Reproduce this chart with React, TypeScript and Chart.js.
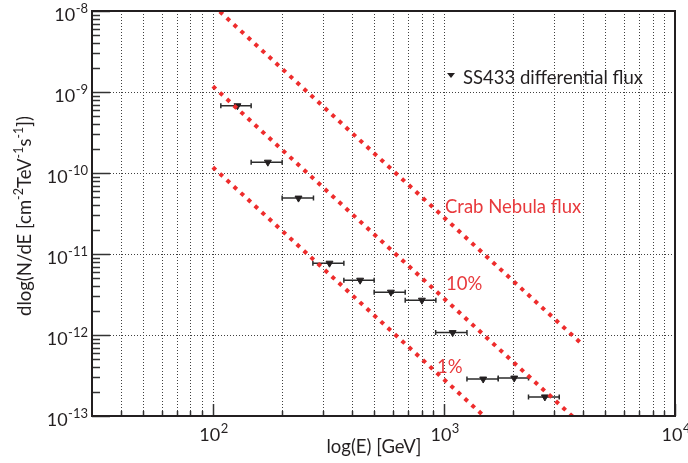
import React, { useEffect, useRef } from "react";
import { Chart, registerables } from "chart.js";
Chart.register(...registerables);

// SS433 differential flux points (GeV, cm^-2 TeV^-1 s^-1)
const energy = [127.8, 173, 234.8, 319.8, 434, 589.7, 803, 1091, 1479, 2015, 2735];
const energyLow = [108.3, 146.5, 199.5, 271, 369, 499, 680, 921, 1258, 1718, 2323];
const energyHigh = [146.5, 199.5, 272.6, 369, 499, 680, 923, 1258, 1718, 2323, 3155];
const flux = [6.76e-10, 1.36e-10, 4.9e-11, 7.7e-12, 4.75e-12, 3.38e-12, 2.69e-12, 1.07e-12, 2.86e-13, 2.94e-13, 1.72e-13];

// Crab Nebula reference lines
const refEnergy = [100, 4000];
const crabFlux = [1.18e-8, 7.5e-13];
const crab10Flux = [1.18e-9, 7.5e-14];
const crab1Flux = [1.18e-10, 7.5e-15];

// Axis ticks
const xMin = 30;
const xMax = 10000;
const yMin = 1e-13;
const yMax = 1e-8;
const xMajorTicks = [100, 1000, 10000];
const xMajorExp = ["2", "3", "4"];
const xMinorTicks = [40, 50, 60, 70, 80, 90, 200, 300, 400, 500, 600, 700, 800, 900, 2000, 3000, 4000, 5000, 6000, 7000, 8000, 9000];
const yMajorTicks = [1e-13, 1e-12, 1e-11, 1e-10, 1e-9, 1e-8];
const yMajorExp = ["-13", "-12", "-11", "-10", "-9", "-8"];
const yMinorMult = [2, 3, 4, 5, 6, 7, 8, 9];

const legendLabel = "SS433 differential flux";
const crabLabel = "Crab Nebula flux";
const tenLabel = "10%";
const oneLabel = "1%";
const xTitle = "log(E) [GeV]";
const yTitleParts: [string, boolean][] = [
  ["dlog(N/dE [cm", false],
  ["-2", true],
  ["TeV", false],
  ["-1", true],
  ["s", false],
  ["-1", true],
  ["])", false],
];

const FONT = "Lato, 'Open Sans', sans-serif";
const TEXT = "#231f20";
const RED_LINE = "#ee2c2c";
const RED_TEXT = "#e8393c";
const MAIN_FONT = `18.5px ${FONT}`;
const SUP_FONT = `12.5px ${FONT}`;

function drawPow(ctx: CanvasRenderingContext2D, base: string, exp: string, x: number, yBase: number, yExp: number, align: "center" | "right") {
  const bf = `18px ${FONT}`;
  const ef = `13px ${FONT}`;
  ctx.font = bf;
  const bw = ctx.measureText(base).width;
  ctx.font = ef;
  const ew = ctx.measureText(exp).width;
  const total = bw + ew + 0.5;
  const left = align === "center" ? x - total / 2 : x - total;
  ctx.textAlign = "left";
  ctx.textBaseline = "alphabetic";
  ctx.font = bf;
  ctx.fillText(base, left, yBase);
  ctx.font = ef;
  ctx.fillText(exp, left + bw + 0.5, yExp);
}

const customPlugin = {
  id: "customDecor",
  beforeDatasetsDraw(chart: any) {
    const { ctx, chartArea: a, scales } = chart;
    const x = scales.x;
    const y = scales.y;
    ctx.save();
    // dotted grid
    ctx.strokeStyle = "#404040";
    ctx.lineWidth = 1;
    ctx.setLineDash([1, 2]);
    const allX = [...xMinorTicks, ...xMajorTicks].filter((v) => v > xMin && v < xMax);
    for (const v of allX) {
      const px = Math.round(x.getPixelForValue(v)) + 0.5;
      ctx.beginPath();
      ctx.moveTo(px, a.top);
      ctx.lineTo(px, a.bottom);
      ctx.stroke();
    }
    for (const v of yMajorTicks) {
      if (v <= yMin || v >= yMax) continue;
      const py = Math.round(y.getPixelForValue(v)) + 0.5;
      ctx.beginPath();
      ctx.moveTo(a.left, py);
      ctx.lineTo(a.right, py);
      ctx.stroke();
    }
    ctx.setLineDash([]);
    // ticks
    ctx.strokeStyle = "#333";
    ctx.lineWidth = 1.5;
    for (const v of yMajorTicks) {
      const py = Math.round(y.getPixelForValue(v)) + 0.5;
      ctx.beginPath();
      ctx.moveTo(a.left, py);
      ctx.lineTo(a.left + 18, py);
      ctx.stroke();
      for (const m of yMinorMult) {
        const vv = v * m;
        if (vv >= yMax) continue;
        const pm = Math.round(y.getPixelForValue(vv)) + 0.5;
        ctx.beginPath();
        ctx.moveTo(a.left, pm);
        ctx.lineTo(a.left + 8, pm);
        ctx.stroke();
      }
    }
    for (const v of xMinorTicks) {
      const px = Math.round(x.getPixelForValue(v)) + 0.5;
      ctx.beginPath();
      ctx.moveTo(px, a.bottom);
      ctx.lineTo(px, a.bottom - 5);
      ctx.stroke();
    }
    for (const v of xMajorTicks) {
      const px = Math.round(x.getPixelForValue(v)) + 0.5;
      ctx.beginPath();
      ctx.moveTo(px, a.bottom);
      ctx.lineTo(px, a.bottom - 12);
      ctx.stroke();
    }
    // error bars
    ctx.strokeStyle = "#2b2b2b";
    ctx.lineWidth = 1.5;
    for (let i = 0; i < energy.length; i++) {
      const x0 = x.getPixelForValue(energyLow[i]);
      const x1 = x.getPixelForValue(energyHigh[i]);
      const py = y.getPixelForValue(flux[i]);
      ctx.beginPath();
      ctx.moveTo(x0, py);
      ctx.lineTo(x1, py);
      ctx.moveTo(x0, py - 2.5);
      ctx.lineTo(x0, py + 2.5);
      ctx.moveTo(x1, py - 2.5);
      ctx.lineTo(x1, py + 2.5);
      ctx.stroke();
    }
    ctx.restore();
  },
  afterDatasetsDraw(chart: any) {
    const { ctx, chartArea: a, scales } = chart;
    const x = scales.x;
    const y = scales.y;
    ctx.save();
    // frame
    ctx.strokeStyle = "#231f20";
    ctx.lineWidth = 2;
    ctx.strokeRect(a.left, a.top, a.right - a.left, a.bottom - a.top);
    // tick labels
    ctx.fillStyle = TEXT;
    xMajorTicks.forEach((v, i) => {
      const px = x.getPixelForValue(v);
      drawPow(ctx, "10", xMajorExp[i], px + 1, a.bottom + 24.5, a.bottom + 16.5, "center");
    });
    yMajorTicks.forEach((v, i) => {
      const py = y.getPixelForValue(v);
      drawPow(ctx, "10", yMajorExp[i], 88, py + 10, py + 1.5, "right");
    });
    // axis titles
    ctx.font = MAIN_FONT;
    ctx.textAlign = "center";
    ctx.textBaseline = "alphabetic";
    ctx.fillText(xTitle, 374, 453);
    // y title with superscripts
    ctx.save();
    ctx.translate(31, 216);
    ctx.rotate(-Math.PI / 2);
    const widths = yTitleParts.map(([t, sup]) => {
      ctx.font = sup ? SUP_FONT : MAIN_FONT;
      return ctx.measureText(t).width;
    });
    const tot = widths.reduce((s, w) => s + w, 0);
    let cx = -tot / 2;
    ctx.textAlign = "left";
    yTitleParts.forEach(([t, sup], i) => {
      ctx.font = sup ? SUP_FONT : MAIN_FONT;
      ctx.fillText(t, cx, sup ? -8 : 0);
      cx += widths[i];
    });
    ctx.restore();
    // legend
    ctx.beginPath();
    ctx.moveTo(447, 73);
    ctx.lineTo(455, 73);
    ctx.lineTo(451, 78);
    ctx.closePath();
    ctx.fill();
    ctx.font = MAIN_FONT;
    ctx.textAlign = "left";
    ctx.fillText(legendLabel, 463, 84);
    // red labels
    ctx.fillStyle = RED_TEXT;
    ctx.fillText(crabLabel, 445, 213);
    ctx.fillText(tenLabel, 446, 290);
    ctx.fillText(oneLabel, 437, 373);
    ctx.restore();
  },
};

export default function App() {
  const ref = useRef<HTMLCanvasElement>(null);
  useEffect(() => {
    if (!ref.current) return;
    const lineDs = (data: number[], label: string) => ({
      type: "line" as const,
      label,
      data: refEnergy.map((e, i) => ({ x: e, y: data[i] })),
      borderColor: RED_LINE,
      backgroundColor: RED_LINE,
      borderWidth: 4,
      borderDash: [4, 5.5],
      borderCapStyle: "butt" as const,
      pointRadius: 0,
      showLine: true,
      fill: false,
      clip: 0,
    });
    const chart = new Chart(ref.current, {
      type: "scatter",
      data: {
        datasets: [
          lineDs(crabFlux, "Crab Nebula flux"),
          lineDs(crab10Flux, "10%"),
          lineDs(crab1Flux, "1%"),
          {
            label: "SS433 differential flux",
            data: energy.map((e, i) => ({ x: e, y: flux[i] })),
            pointStyle: "triangle",
            rotation: 180,
            pointRadius: 4,
            backgroundColor: TEXT,
            borderColor: TEXT,
            borderWidth: 1,
            clip: 0,
          } as any,
        ],
      },
      options: {
        responsive: false,
        animation: false,
        layout: { padding: { left: 92, top: 11, right: 13, bottom: 47 } },
        plugins: { legend: { display: false }, tooltip: { enabled: false } },
        scales: {
          x: { type: "logarithmic", min: xMin, max: xMax, display: false },
          y: { type: "logarithmic", min: yMin, max: yMax, display: false },
        },
      },
      plugins: [customPlugin],
    });
    return () => chart.destroy();
  }, []);
  return (
    <div style={{ position: "fixed", left: 0, top: 0, width: 688, height: 463, background: "#fff" }}>
      <canvas ref={ref} width={688} height={463} />
    </div>
  );
}
